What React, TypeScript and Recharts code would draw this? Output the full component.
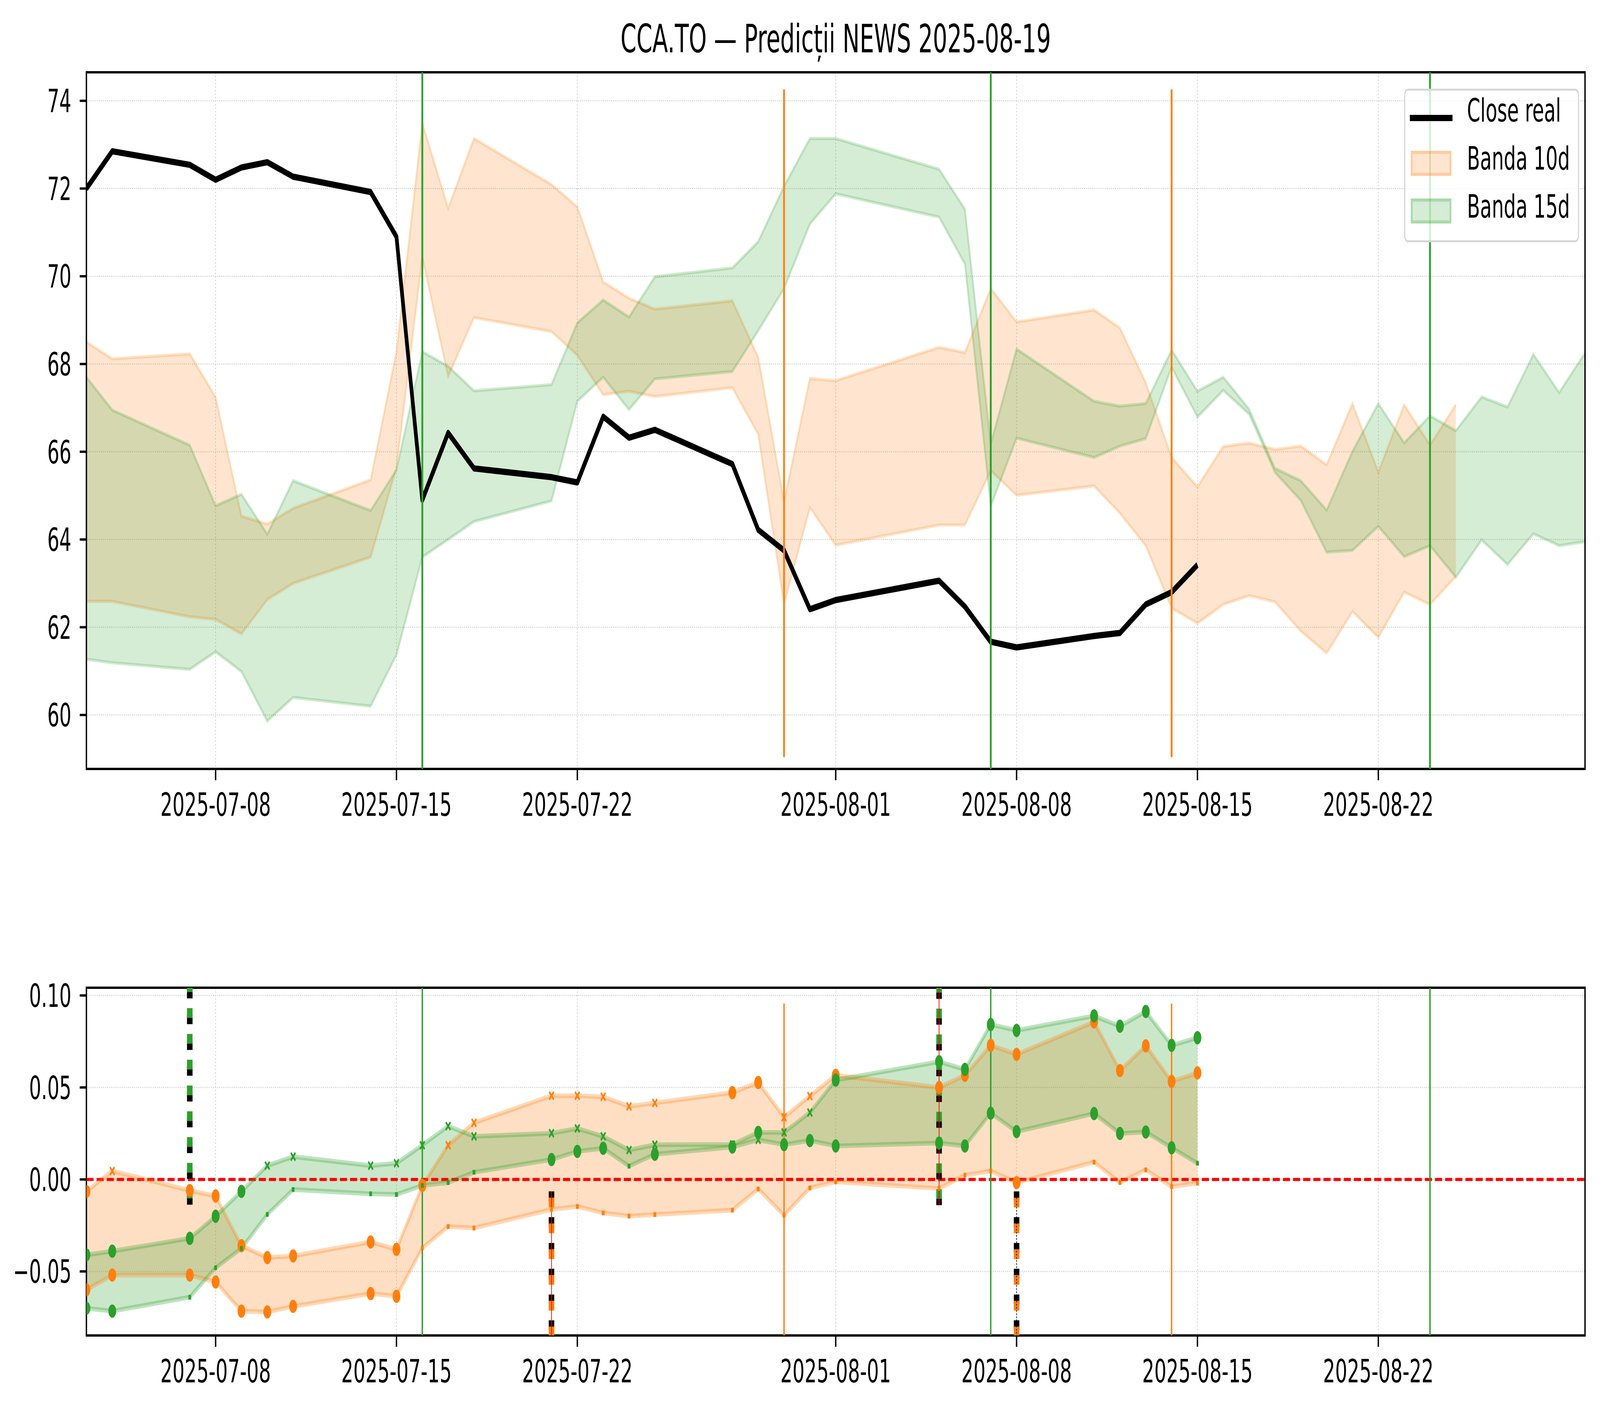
import React from 'react';
import {
  ComposedChart, Line, Area, XAxis, YAxis, CartesianGrid, ReferenceLine, ReferenceArea,
} from 'recharts';

// trading days + forecast days (10d band ends 08-25, 15d band ends 08-30)
const dates = [
  '2025-07-03', '2025-07-04', '2025-07-07', '2025-07-08', '2025-07-09', '2025-07-10', '2025-07-11',
  '2025-07-14', '2025-07-15', '2025-07-16', '2025-07-17', '2025-07-18', '2025-07-21', '2025-07-22',
  '2025-07-23', '2025-07-24', '2025-07-25', '2025-07-28', '2025-07-29', '2025-07-30', '2025-07-31',
  '2025-08-01', '2025-08-05', '2025-08-06', '2025-08-07', '2025-08-08', '2025-08-11', '2025-08-12',
  '2025-08-13', '2025-08-14', '2025-08-15', '2025-08-16', '2025-08-17', '2025-08-18', '2025-08-19',
  '2025-08-20', '2025-08-21', '2025-08-22', '2025-08-23', '2025-08-24', '2025-08-25', '2025-08-26',
  '2025-08-27', '2025-08-28', '2025-08-29', '2025-08-30',
];

const closeReal = [
  72.0, 72.85, 72.54, 72.2, 72.48, 72.6, 72.27, 71.92, 70.9, 64.9,
  66.43, 65.62, 65.42, 65.3, 66.8, 66.32, 66.5, 65.72, 64.22, 63.75,
  62.41, 62.62, 63.06, 62.47, 61.67, 61.54, 61.8, 61.87, 62.52, 62.8, 63.42,
];

const band10Hi = [
  68.5, 68.12, 68.23, 67.24, 64.53, 64.35, 64.71, 65.36, 68.28, 73.49,
  71.55, 73.14, 72.09, 71.58, 69.87, 69.5, 69.25, 69.44, 68.15, 64.86,
  67.67, 67.62, 68.38, 68.26, 69.72, 68.96, 69.23, 68.82, 67.57, 65.87, 65.2,
  66.12, 66.2, 66.05, 66.13, 65.7, 67.1, 65.53, 67.07, 66.15, 67.07,
];
const band10Lo = [
  62.59, 62.59, 62.24, 62.18, 61.85, 62.63, 63.0, 63.6, 65.64, 70.43,
  67.72, 69.06, 68.74, 68.2, 67.3, 67.38, 67.26, 67.46, 66.4, 62.53,
  64.73, 63.87, 64.33, 64.33, 65.57, 65.01, 65.22, 64.6, 63.86, 62.44, 62.09,
  62.52, 62.72, 62.58, 61.91, 61.41, 62.36, 61.77, 62.8, 62.52, 63.16,
];
const band15Hi = [
  67.7, 66.95, 66.15, 64.77, 65.03, 64.12, 65.34, 64.66, 65.59, 68.28,
  67.95, 67.39, 67.53, 68.94, 69.46, 69.07, 69.99, 70.19, 70.79, 72.05,
  73.14, 73.14, 72.44, 71.53, 66.18, 68.34, 67.15, 67.04, 67.1, 68.32, 67.38,
  67.7, 66.97, 65.62, 65.34, 64.67, 66.01, 67.1, 66.2, 66.82, 66.48, 67.25, 67.02, 68.22, 67.35, 68.25,
];
const band15Lo = [
  61.27, 61.19, 61.04, 61.44, 60.99, 59.86, 60.4, 60.2, 61.37, 63.6,
  64.0, 64.41, 64.88, 67.15, 67.7, 66.96, 67.66, 67.83, 68.76, 69.72,
  71.19, 71.88, 71.35, 70.28, 64.76, 66.31, 65.87, 66.13, 66.3, 67.93, 66.79,
  67.4, 66.86, 65.53, 64.89, 63.71, 63.75, 64.3, 63.61, 63.86, 63.14, 63.99, 63.43, 64.13, 63.86, 63.95,
];

// lower panel: predicted returns per trading day, with marker kind (o = circle, x = cross, s = square)
const ret10Hi = [
  -0.0065, 0.0046, -0.006, -0.009, -0.036, -0.0425, -0.0416, -0.034, -0.038, -0.0033,
  0.0186, 0.0308, 0.0455, 0.0455, 0.0449, 0.0397, 0.0416, 0.0472, 0.0527, 0.0338,
  0.0453, 0.0566, 0.05, 0.0566, 0.0729, 0.068, 0.0856, 0.0592, 0.0726, 0.0533, 0.0579,
];
const ret10HiMark = 'oxoooooooo' + 'xxxxxxxoox' + 'xoooooooooo';
const ret10Lo = [
  -0.06, -0.052, -0.052, -0.0557, -0.0716, -0.072, -0.069, -0.062, -0.0635, -0.0373,
  -0.0256, -0.0264, -0.0163, -0.0147, -0.0182, -0.0199, -0.0191, -0.0167, -0.0052, -0.0195,
  -0.0046, -0.0013, -0.0049, 0.0023, 0.0046, -0.0017, 0.0094, -0.0017, 0.0052, -0.0039, -0.002,
];
const ret10LoMark = 'ooooooooos' + 'ssssssssss' + 'sssssosssss';
const ret15Hi = [
  -0.041, -0.039, -0.032, -0.02, -0.0065, 0.0075, 0.0124, 0.0075, 0.0088, 0.0186,
  0.029, 0.0234, 0.0251, 0.0277, 0.0234, 0.016, 0.0189, 0.019, 0.0256, 0.0256,
  0.0364, 0.054, 0.064, 0.0598, 0.0842, 0.081, 0.0889, 0.0833, 0.0913, 0.0729, 0.077,
];
const ret15HiMark = 'oooooxxxxx' + 'xxxxxxxxox' + 'xoooooooooo';
const ret15Lo = [
  -0.07, -0.0716, -0.064, -0.048, -0.0375, -0.019, -0.0055, -0.0078, -0.0082, -0.0033,
  -0.0017, 0.0039, 0.0108, 0.0152, 0.0169, 0.0072, 0.0137, 0.0176, 0.0215, 0.0189,
  0.0211, 0.0182, 0.0198, 0.0182, 0.036, 0.026, 0.0358, 0.025, 0.0258, 0.0172, 0.0088,
];
const ret15LoMark = 'oossssssss' + 'ssooosooxo' + 'oooooooooos';

const xTickDates = ['2025-07-08', '2025-07-15', '2025-07-22', '2025-08-01', '2025-08-08', '2025-08-15', '2025-08-22'];
const priceTicks = [60, 62, 64, 66, 68, 70, 72, 74];
const retTicks = [-0.05, 0, 0.05, 0.1];

const greenLineDates = ['2025-07-16', '2025-08-07', '2025-08-24'];
const orangeLineDates = ['2025-07-30', '2025-08-14'];

// signal markers in lower panel
const eventDates = ['2025-07-07', '2025-07-21', '2025-08-05', '2025-08-08'];
const eventFrom = [-0.0137, -0.0065, -0.014, -0.0065];
const eventUp = [true, false, true, false];
const eventColor = ['#2ca02c', '#ff7f0e', '#2ca02c', '#ff7f0e'];
const eventThin = ['', '#ff0000', '#ff0000', '#000000'];

const ORANGE = '#ff7f0e';
const GREEN = '#2ca02c';
const FONT = 'DejaVu Sans';
const FIG_W = 6943;
const FIG_H = 3619;

const DAY0 = Date.UTC(2025, 6, 3);
const toDay = (s: string) => {
  const [y, m, d] = s.split('-').map(Number);
  return (Date.UTC(y, m - 1, d) - DAY0) / 86400000;
};

const X_MIN = 0;
const X_MAX = toDay('2025-08-30');
const P_MIN = 58.77;
const P_MAX = 74.65;
const R_MIN = -0.0848;
const R_MAX = 0.1042;

const topRows = dates.map((d, i) => ({
  day: toDay(d),
  close: i < closeReal.length ? closeReal[i] : null,
  b10: i < band10Hi.length ? [band10Lo[i], band10Hi[i]] : null,
  b15: [band15Lo[i], band15Hi[i]],
}));

const bottomRows = dates.slice(0, ret10Hi.length).map((d, i) => ({
  day: toDay(d),
  r10: [ret10Lo[i], ret10Hi[i]],
  r15: [ret15Lo[i], ret15Hi[i]],
  hi10: ret10Hi[i], lo10: ret10Lo[i], hi15: ret15Hi[i], lo15: ret15Lo[i],
  mHi10: ret10HiMark[i], mLo10: ret10LoMark[i], mHi15: ret15HiMark[i], mLo15: ret15LoMark[i],
}));

const xTicks = xTickDates.map(toDay);
const tickLabel = (v: number) => {
  const i = xTicks.indexOf(v);
  return i >= 0 ? xTickDates[i] : '';
};
const retLabel = (v: number) => (v < 0 ? '\u2212' : '') + Math.abs(v).toFixed(2);

const tickStyle = { fontSize: 82.6, fill: '#000', fontFamily: FONT };
const tickLineStyle = { stroke: '#000', strokeWidth: 6 };

const makeDot = (color: string, key: string) => (props: any) => {
  const { cx, cy, payload, index } = props;
  if (cx == null || cy == null) return <g key={`d${index}`} />;
  const t = payload[key];
  if (t === 'o') return <circle key={`d${index}`} cx={cx} cy={cy} r={17} fill={color} />;
  if (t === 'x') {
    return (
      <path key={`d${index}`} d={`M${cx - 10},${cy - 10}L${cx + 10},${cy + 10}M${cx - 10},${cy + 10}L${cx + 10},${cy - 10}`}
        stroke={color} strokeWidth={6} fill="none" />
    );
  }
  return <rect key={`d${index}`} x={cx - 6} y={cy - 6} width={12} height={12} fill={color} />;
};

const Legend = () => (
  <div style={{
    position: 'absolute', left: 6093, top: 227, width: 759, height: 393, boxSizing: 'border-box',
    border: '5px solid #d6d6d6', borderRadius: 16, background: 'rgba(255,255,255,0.8)',
  }}>
    <div style={{ position: 'absolute', left: 20, top: 62, width: 185, height: 16, background: '#000' }} />
    <div style={{ position: 'absolute', left: 24, top: 154, width: 176, height: 64, boxSizing: 'border-box',
      background: 'rgba(255,127,14,0.2)', border: '8px solid rgba(255,127,14,0.25)' }} />
    <div style={{ position: 'absolute', left: 24, top: 276, width: 176, height: 64, boxSizing: 'border-box',
      background: 'rgba(44,160,44,0.2)', border: '8px solid rgba(44,160,44,0.25)' }} />
    {['Close real', 'Banda 10d', 'Banda 15d'].map((t, i) => (
      <div key={t} style={{ position: 'absolute', left: 268, top: 9 + i * 123, fontSize: 82.6, lineHeight: 1,
        fontFamily: FONT, whiteSpace: 'nowrap', color: '#000' }}>{t}</div>
    ))}
  </div>
);

export default function App() {
  // the browser window may be narrower than the figure: squeeze the figure to fill it
  const vw = typeof window !== 'undefined' ? window.innerWidth : FIG_W;
  const vh = typeof window !== 'undefined' ? window.innerHeight : FIG_H;
  const sx = Math.min(1, vw / FIG_W);
  const sy = Math.min(1, vh / FIG_H);

  return (
    <div style={{ position: 'absolute', left: 0, top: 0, width: FIG_W * sx, height: FIG_H * sy, overflow: 'hidden', background: '#fff' }}>
      <div style={{ position: 'absolute', left: 0, top: 0, width: FIG_W, height: FIG_H, background: '#fff',
        fontFamily: FONT, transform: `scale(${sx}, ${sy})`, transformOrigin: '0 0' }}>
        <div style={{ position: 'absolute', left: 375, width: 6503, top: 50, textAlign: 'center', fontSize: 99,
          lineHeight: 1, fontFamily: FONT, color: '#000', whiteSpace: 'nowrap' }}>
          CCA.TO — Predicții NEWS 2025-08-19
        </div>

        <div style={{ position: 'absolute', left: 0, top: 0 }}>
          <ComposedChart width={FIG_W} height={2150} data={topRows} margin={{ top: 185, right: 65, left: 0, bottom: 0 }}>
            <CartesianGrid stroke="#cfcfcf" strokeWidth={3} strokeDasharray="4 5" />
            <XAxis dataKey="day" type="number" domain={[X_MIN, X_MAX]} ticks={xTicks} interval={0}
              tickFormatter={tickLabel} allowDataOverflow height={182} tickSize={29} tickMargin={32}
              axisLine={false} tickLine={tickLineStyle} tick={tickStyle} />
            <YAxis type="number" domain={[P_MIN, P_MAX]} ticks={priceTicks} allowDataOverflow width={375}
              tickSize={29} tickMargin={36} axisLine={false} tickLine={tickLineStyle} tick={tickStyle} />
            <Area type="linear" dataKey="b10" fill={ORANGE} fillOpacity={0.2} stroke={ORANGE} strokeOpacity={0.22}
              strokeWidth={8} dot={false} activeDot={false} isAnimationActive={false} />
            <Area type="linear" dataKey="b15" fill={GREEN} fillOpacity={0.2} stroke={GREEN} strokeOpacity={0.22}
              strokeWidth={8} dot={false} activeDot={false} isAnimationActive={false} />
            <Line type="linear" dataKey="close" stroke="#000" strokeWidth={16} strokeLinejoin="round"
              dot={false} activeDot={false} isAnimationActive={false} />
            {greenLineDates.map((d) => (
              <ReferenceLine key={d} x={toDay(d)} stroke={GREEN} strokeWidth={8} />
            ))}
            {orangeLineDates.map((d) => (
              <ReferenceLine key={d} segment={[{ x: toDay(d), y: 59.04 }, { x: toDay(d), y: 74.26 }]}
                stroke={ORANGE} strokeWidth={8} />
            ))}
            <ReferenceArea x1={X_MIN} x2={X_MAX} y1={P_MIN} y2={P_MAX} fill="none" stroke="#000"
              strokeWidth={6} ifOverflow="visible" />
          </ComposedChart>
        </div>

        <div style={{ position: 'absolute', left: 0, top: 2300 }}>
          <ComposedChart width={FIG_W} height={1319} data={bottomRows} margin={{ top: 228, right: 65, left: 0, bottom: 0 }}>
            <CartesianGrid stroke="#cfcfcf" strokeWidth={3} strokeDasharray="4 5" />
            <XAxis dataKey="day" type="number" domain={[X_MIN, X_MAX]} ticks={xTicks} interval={0}
              tickFormatter={tickLabel} allowDataOverflow height={201} tickSize={29} tickMargin={32}
              axisLine={false} tickLine={tickLineStyle} tick={tickStyle} />
            <YAxis type="number" domain={[R_MIN, R_MAX]} ticks={retTicks} allowDataOverflow width={375}
              tickFormatter={retLabel} tickSize={29} tickMargin={36} axisLine={false} tickLine={tickLineStyle}
              tick={tickStyle} />
            <ReferenceLine y={0} stroke="#ff0000" strokeWidth={8} strokeDasharray="31 13" />
            <Area type="linear" dataKey="r10" fill={ORANGE} fillOpacity={0.25} stroke="none"
              dot={false} activeDot={false} isAnimationActive={false} />
            <Line type="linear" dataKey="hi10" stroke={ORANGE} strokeOpacity={0.3} strokeWidth={12}
              dot={makeDot(ORANGE, 'mHi10')} activeDot={false} isAnimationActive={false} />
            <Line type="linear" dataKey="lo10" stroke={ORANGE} strokeOpacity={0.3} strokeWidth={12}
              dot={makeDot(ORANGE, 'mLo10')} activeDot={false} isAnimationActive={false} />
            <Area type="linear" dataKey="r15" fill={GREEN} fillOpacity={0.25} stroke="none"
              dot={false} activeDot={false} isAnimationActive={false} />
            <Line type="linear" dataKey="hi15" stroke={GREEN} strokeOpacity={0.3} strokeWidth={12}
              dot={makeDot(GREEN, 'mHi15')} activeDot={false} isAnimationActive={false} />
            <Line type="linear" dataKey="lo15" stroke={GREEN} strokeOpacity={0.3} strokeWidth={12}
              dot={makeDot(GREEN, 'mLo15')} activeDot={false} isAnimationActive={false} />
            {greenLineDates.map((d) => (
              <ReferenceLine key={d} x={toDay(d)} stroke={GREEN} strokeWidth={6} />
            ))}
            {orangeLineDates.map((d) => (
              <ReferenceLine key={d} segment={[{ x: toDay(d), y: R_MIN }, { x: toDay(d), y: 0.0956 }]}
                stroke={ORANGE} strokeWidth={6} />
            ))}
            {eventDates.map((d, i) => {
              const end = eventUp[i] ? R_MAX : R_MIN;
              const seg = [{ x: toDay(d), y: eventFrom[i] }, { x: toDay(d), y: end }];
              return (
                <React.Fragment key={d}>
                  <ReferenceLine segment={seg} stroke="#000" strokeWidth={24} strokeDasharray="25 41" ifOverflow="visible" />
                  <ReferenceLine segment={seg} stroke={eventColor[i]} strokeWidth={24} strokeDasharray="25 41"
                    strokeDashoffset={-16} ifOverflow="visible" />
                  {eventThin[i] && (
                    <ReferenceLine segment={seg} stroke={eventThin[i]} strokeWidth={3}
                      strokeDasharray={eventThin[i] === '#000000' ? '4 4' : undefined} ifOverflow="visible" />
                  )}
                </React.Fragment>
              );
            })}
            <ReferenceArea x1={X_MIN} x2={X_MAX} y1={R_MIN} y2={R_MAX} fill="none" stroke="#000"
              strokeWidth={6} ifOverflow="visible" />
          </ComposedChart>
        </div>

        <Legend />
      </div>
    </div>
  );
}
